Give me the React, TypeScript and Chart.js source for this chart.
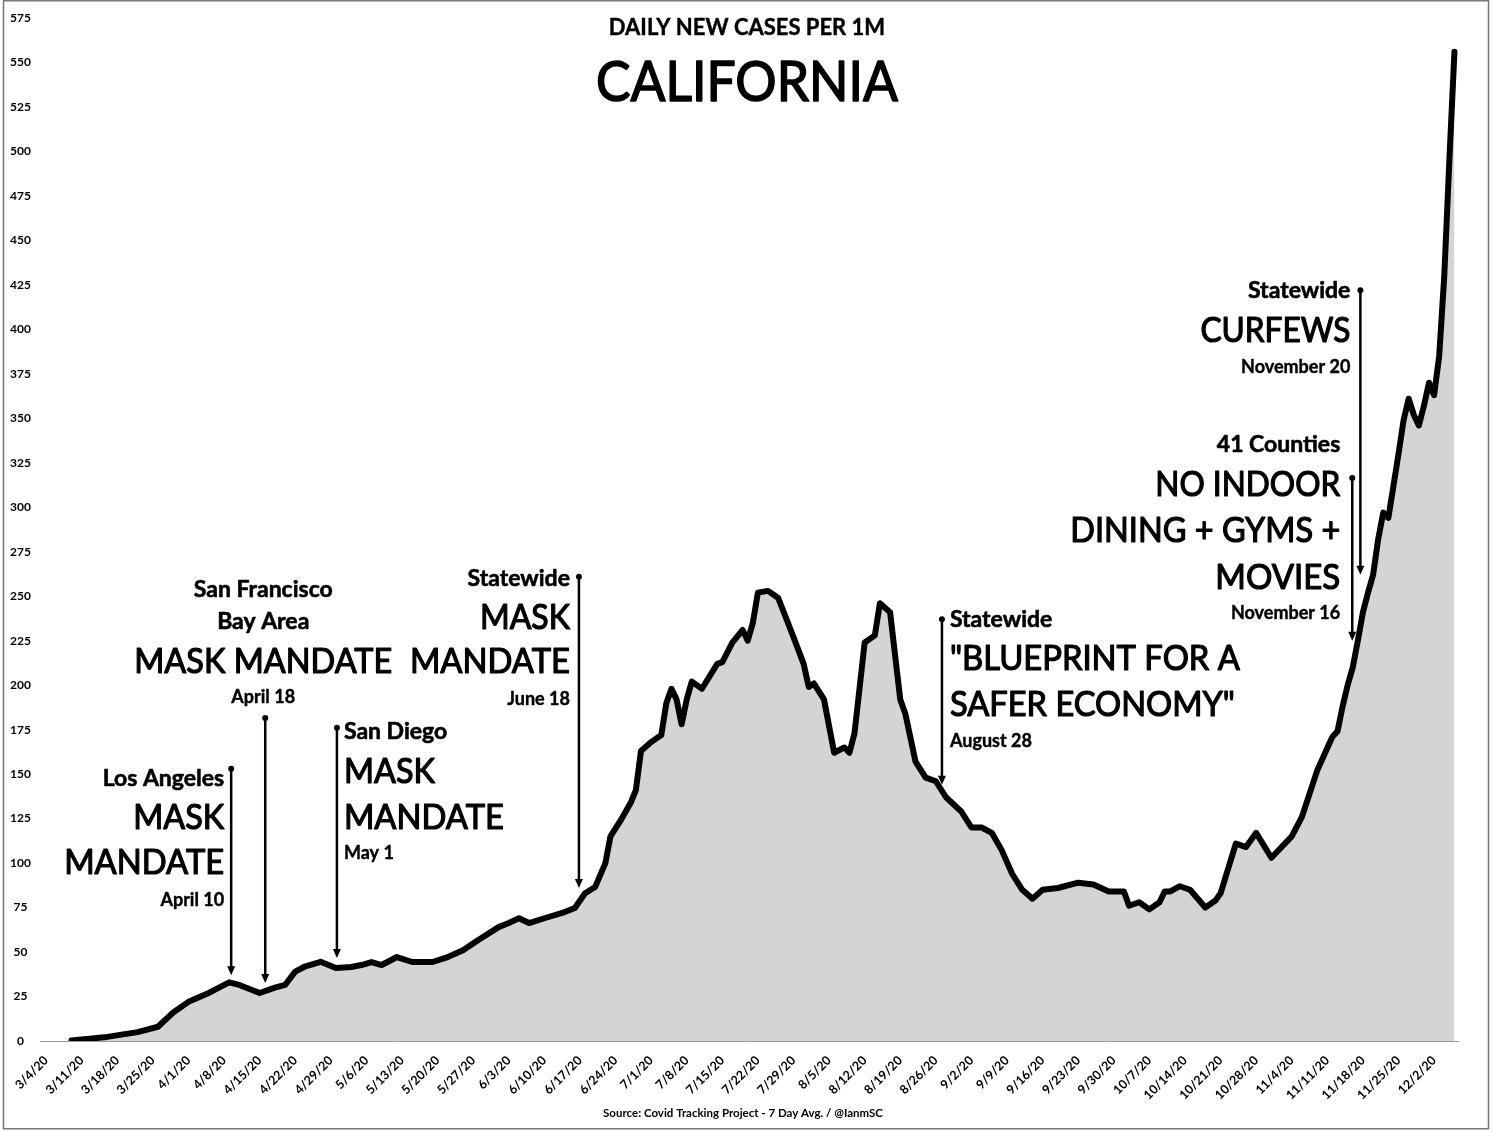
import React, { useEffect, useRef } from "react";
import { Chart, registerables } from "chart.js";

Chart.register(...registerables);

// ---------- data ----------
const dates = [
  "3/9", "3/16", "3/22", "3/26", "3/29", "4/1", "4/5", "4/9", "4/11",
  "4/15", "4/18", "4/20", "4/22", "4/24", "4/27", "4/30", "5/3", "5/5", "5/7",
  "5/9", "5/12", "5/15", "5/19", "5/22", "5/25", "5/28", "6/1", "6/3", "6/5",
  "6/7", "6/10", "6/14", "6/16", "6/18", "6/20", "6/22", "6/23", "6/25", "6/27",
  "6/28", "6/29", "7/1", "7/3", "7/4", "7/5", "7/6", "7/7", "7/8", "7/9",
  "7/11", "7/14", "7/15", "7/17", "7/19", "7/20", "7/21", "7/22", "7/24", "7/26",
  "7/29", "7/31", "8/1", "8/2", "8/4", "8/6", "8/8", "8/9", "8/10", "8/12",
  "8/14", "8/15", "8/17", "8/19", "8/20", "8/22", "8/24", "8/26", "8/28", "8/31",
  "9/2", "9/4", "9/6", "9/8", "9/10", "9/12", "9/14", "9/16", "9/19", "9/23",
  "9/26", "9/29", "10/2", "10/3", "10/5", "10/7", "10/9", "10/10", "10/11", "10/13",
  "10/15", "10/18", "10/20", "10/21", "10/24", "10/26", "10/28", "10/31", "11/4", "11/6",
  "11/9", "11/12", "11/13", "11/14", "11/15", "11/16", "11/17", "11/18", "11/19", "11/20",
  "11/21", "11/22", "11/23", "11/24", "11/25", "11/26", "11/27", "11/28", "11/29", "11/30",
  "12/1", "12/2", "12/3", "12/4", "12/5", "12/6",
];

const cases = [
  0.3, 2.3, 5, 8, 16, 22, 27, 33, 31.5,
  27, 30, 31.5, 39, 42, 44.5, 41, 41.6, 42.7, 44.4,
  42.7, 47.2, 44.4, 44.4, 47.2, 51, 56.8, 64, 66.3, 69,
  66.3, 69, 72.5, 74.8, 83, 86.6, 100, 115, 124, 134,
  141, 163, 168, 172, 190, 198, 192, 178, 192, 202,
  198, 212, 213, 224, 231, 225, 235, 252, 253, 249,
  227, 212, 199, 201, 192, 162, 165, 162, 173, 224,
  228, 246, 241, 192, 184, 157, 148, 146, 137, 129,
  120, 120, 117, 107, 94, 85, 80, 85, 86, 89,
  88, 84, 84, 76, 78, 74, 78, 84, 84, 87,
  85, 75, 79, 83, 111, 109, 117, 103, 115, 126,
  152, 171, 174, 188, 200, 210, 225, 241, 252, 262,
  282, 297, 294, 312, 330, 349, 361, 352, 346, 357,
  370, 363, 385, 430, 495, 556,
];

const tickLabels = [
  "3/4/20", "3/11/20", "3/18/20", "3/25/20", "4/1/20", "4/8/20", "4/15/20", "4/22/20",
  "4/29/20", "5/6/20", "5/13/20", "5/20/20", "5/27/20", "6/3/20", "6/10/20", "6/17/20",
  "6/24/20", "7/1/20", "7/8/20", "7/15/20", "7/22/20", "7/29/20", "8/5/20", "8/12/20",
  "8/19/20", "8/26/20", "9/2/20", "9/9/20", "9/16/20", "9/23/20", "9/30/20", "10/7/20",
  "10/14/20", "10/21/20", "10/28/20", "11/4/20", "11/11/20", "11/18/20", "11/25/20", "12/2/20",
];

const titleSmall = "DAILY NEW CASES PER 1M";
const titleBig = "CALIFORNIA";
const footer = "Source: Covid Tracking Project - 7 Day Avg. / @IanmSC";

// annotation lines: [text, y value, style, max width]
type Line = [string, number, "h" | "b" | "d", number];
type Note = { day: number; top: number; bottom: number; align: "left" | "right" | "center"; gap: number; lines: Line[] };

const notes: Note[] = [
  { day: 36.4, top: 153, bottom: 37, align: "right", gap: 7, lines: [
    ["Los Angeles", 147.3, "h", 127], ["MASK", 125.4, "b", 91], ["MANDATE", 100, "b", 160], ["April 10", 79.3, "d", 65]] },
  { day: 43.1, top: 181.6, bottom: 32.6, align: "center", gap: -2, lines: [
    ["San Francisco", 253.5, "h", 145], ["Bay Area", 235.5, "h", 93], ["MASK MANDATE", 213, "b", 258], ["April 18", 193.4, "d", 65]] },
  { day: 57.2, top: 176, bottom: 46.7, align: "left", gap: 7, lines: [
    ["San Diego", 173.7, "h", 106], ["MASK", 151.2, "b", 91], ["MANDATE", 125.4, "b", 160], ["May 1", 105.7, "d", 51]] },
  { day: 104.8, top: 261, bottom: 86, align: "right", gap: 9, lines: [
    ["Statewide", 260, "h", 109], ["MASK", 238, "b", 90], ["MANDATE", 213, "b", 160], ["June 18", 192, "d", 65]] },
  { day: 176.2, top: 237, bottom: 144, align: "left", gap: 8, lines: [
    ["Statewide", 237, "h", 110], ["\"BLUEPRINT FOR A", 214.7, "b", 290], ["SAFER ECONOMY\"", 188.9, "b", 285], ["August 28", 168.6, "d", 85]] },
  { day: 258.5, top: 422, bottom: 262, align: "right", gap: 10, lines: [
    ["Statewide", 421.6, "h", 108], ["CURFEWS", 399, "b", 150], ["November 20", 378.9, "d", 112]] },
  { day: 256.9, top: 316.5, bottom: 225, align: "right", gap: 12, lines: [
    ["41 Counties", 335, "h", 127], ["NO INDOOR", 312.5, "b", 185], ["DINING + GYMS +", 286.7, "b", 270], ["MOVIES", 260.3, "b", 125], ["November 16", 240.6, "d", 113]] },
];

// ---------- helpers ----------
const START = Date.UTC(2020, 2, 4);
function dayOf(s: string): number {
  const [m, d] = s.split("/").map(Number);
  return Math.round((Date.UTC(2020, m - 1, d) - START) / 86400000);
}

const FAMILY = "Lato, 'Open Sans', sans-serif";
const styleFont: Record<string, string> = {
  h: `bold 23px ${FAMILY}`,
  b: `normal 34px ${FAMILY}`,
  d: `bold 18px ${FAMILY}`,
};
const styleStroke: Record<string, number> = { h: 0.6, b: 1.2, d: 0.4 };

function heavyText(ctx: any, text: string, x: number, y: number, mw: number, sw: number) {
  ctx.fillText(text, x, y, mw);
  ctx.lineWidth = sw;
  ctx.lineJoin = "round";
  ctx.strokeText(text, x, y, mw);
}

const overlay = {
  id: "overlay",
  beforeDraw(chart: any) {
    const { ctx, width, height } = chart;
    ctx.save();
    ctx.fillStyle = "#ffffff";
    ctx.fillRect(0, 0, width, height);
    ctx.restore();
  },
  afterDraw(chart: any) {
    const { ctx, chartArea } = chart;
    const xs = chart.scales.x;
    const ys = chart.scales.y;
    ctx.save();
    ctx.fillStyle = "#000";
    ctx.strokeStyle = "#000";
    ctx.textBaseline = "middle";

    // titles
    const cx = (chartArea.left + chartArea.right) / 2 - 2;
    ctx.textAlign = "center";
    ctx.font = `bold 22px ${FAMILY}`;
    heavyText(ctx, titleSmall, cx, chartArea.top + 10, 285, 0.4);
    ctx.font = `normal 57px ${FAMILY}`;
    heavyText(ctx, titleBig, cx, chartArea.top + 65, 302, 1.6);
    ctx.font = `bold 11.5px ${FAMILY}`;
    ctx.fillText(footer, cx - 4, chartArea.bottom + 72, 293);

    // annotations
    for (const n of notes) {
      const ax = xs.getPixelForValue(n.day);
      const yt = ys.getPixelForValue(n.top);
      const yb = ys.getPixelForValue(n.bottom);
      ctx.lineWidth = 2.5;
      ctx.beginPath();
      ctx.moveTo(ax, yt);
      ctx.lineTo(ax, yb - 6);
      ctx.stroke();
      ctx.beginPath();
      ctx.arc(ax, yt, 3, 0, Math.PI * 2);
      ctx.fill();
      ctx.beginPath();
      ctx.moveTo(ax - 4, yb - 9);
      ctx.lineTo(ax + 4, yb - 9);
      ctx.lineTo(ax, yb);
      ctx.closePath();
      ctx.fill();

      let tx = ax;
      if (n.align === "right") { tx = ax - n.gap; ctx.textAlign = "right"; }
      else if (n.align === "left") { tx = ax + n.gap; ctx.textAlign = "left"; }
      else { tx = ax + n.gap; ctx.textAlign = "center"; }
      for (const [text, v, st, mw] of n.lines) {
        ctx.font = styleFont[st];
        heavyText(ctx, text, tx, ys.getPixelForValue(v), mw, styleStroke[st]);
      }
    }

    // frame
    ctx.strokeStyle = "#777";
    ctx.lineWidth = 1.5;
    ctx.strokeRect(3.5, 0.75, 1485, 1128);
    ctx.restore();
  },
};

export default function App() {
  const ref = useRef<HTMLCanvasElement | null>(null);

  useEffect(() => {
    if (!ref.current) return;
    const tickValues = tickLabels.map((l) => dayOf(l.slice(0, l.lastIndexOf("/"))));
    const chart = new Chart(ref.current, {
      type: "line",
      data: {
        datasets: [
          {
            data: dates.map((d, i) => ({ x: dayOf(d), y: cases[i] })),
            borderColor: "#000",
            borderWidth: 6,
            pointRadius: 0,
            tension: 0,
            borderJoinStyle: "round",
            borderCapStyle: "round",
            fill: "origin",
            backgroundColor: "rgba(0,0,0,0.17)",
          },
        ],
      },
      options: {
        animation: false,
        responsive: false,
        devicePixelRatio: 1,
        layout: { padding: { top: 18, right: 35, left: 0, bottom: 0 } },
        plugins: { legend: { display: false }, tooltip: { enabled: false }, title: { display: false } },
        scales: {
          x: {
            type: "linear",
            min: -1.2,
            max: 277.7,
            afterBuildTicks: (s: any) => {
              s.ticks = tickValues.map((v) => ({ value: v }));
            },
            afterFit: (s: any) => {
              s.height = 91;
            },
            ticks: {
              autoSkip: false,
              maxRotation: 45,
              minRotation: 45,
              padding: 4,
              color: "#000",
              font: { family: FAMILY, weight: "bold", size: 12.5 },
              callback: (_v: any, i: number) => tickLabels[i],
            },
            grid: { display: false },
            border: { display: true, color: "#9a9a9a", width: 1 },
          },
          y: {
            min: 0,
            max: 575,
            afterFit: (s: any) => {
              s.width = 40;
            },
            ticks: {
              stepSize: 25,
              crossAlign: "center",
              padding: 1,
              color: "#000",
              font: { family: FAMILY, weight: "bold", size: 12 },
            },
            grid: { display: false },
            border: { display: false },
          },
        },
      },
      plugins: [overlay],
    });
    return () => chart.destroy();
  }, []);

  return (
    <div style={{ position: "absolute", left: 0, top: 0, width: 1493, height: 1132, background: "#fff" }}>
      <canvas ref={ref} width={1493} height={1132} style={{ display: "block" }} />
    </div>
  );
}
